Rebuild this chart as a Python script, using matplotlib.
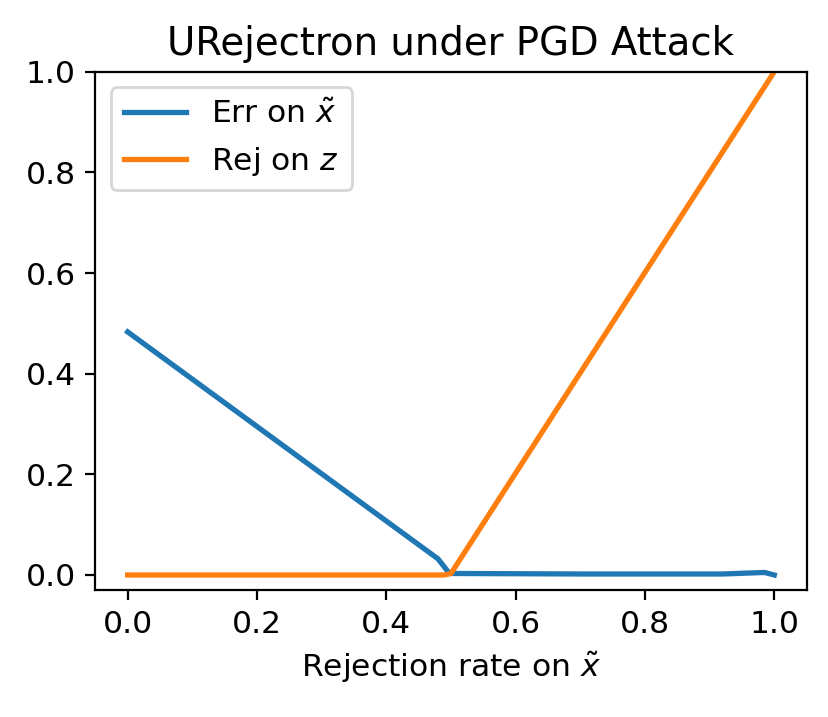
import matplotlib
matplotlib.use("Agg")
import matplotlib.pyplot as plt

# rejection rate on x~ (blue curve sample points)
err_x = [0.0, 0.48, 0.497, 0.50, 0.70, 0.92, 0.985, 1.0]
err_y = [0.483, 0.032, 0.004, 0.003, 0.002, 0.002, 0.005, 0.0]

rej_x = [0.0, 0.49, 0.50, 1.0]
rej_y = [0.0, 0.0, 0.003, 1.0]

plt.rcParams["font.size"] = 11.3

fig = plt.figure(figsize=(829 / 200, 717 / 200), dpi=200)
ax = fig.add_axes([0.115, 0.177, 0.858, 0.723])

ax.plot(err_x, err_y, color="#1f77b4", lw=1.9, label=r"Err on $\tilde{x}$")
ax.plot(rej_x, rej_y, color="#ff7f0e", lw=1.9, label=r"Rej on $z$")

ax.set_ylim(-0.03, 1.0)
ax.set_xlabel(r"Rejection rate on $\tilde{x}$")
ax.set_title("URejectron under PGD Attack", fontsize=13.9)
ax.legend(loc="upper left")

fig.savefig("out.png", dpi=200)
